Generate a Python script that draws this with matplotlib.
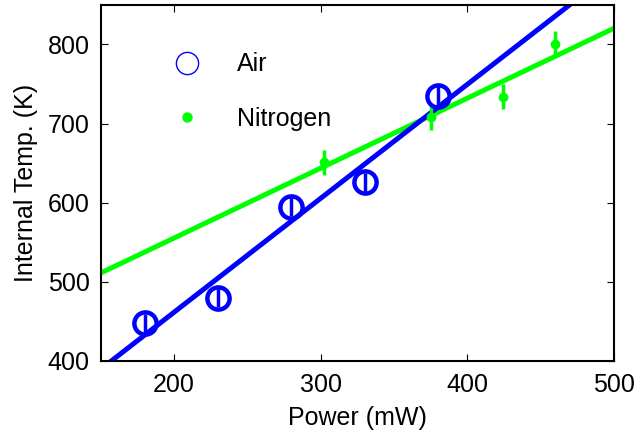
import numpy as np
import matplotlib
matplotlib.use('Agg')
import matplotlib.pyplot as plt
from matplotlib.lines import Line2D

plt.rcParams['font.family'] = ['Liberation Sans', 'DejaVu Sans']

# Air measurements
air_power = [180, 230, 280, 330, 380]
air_temp = [448, 480, 595, 626, 735]
air_err = [12, 12, 12, 12, 12]

# Nitrogen measurements
n2_power = [302, 375, 424, 460]
n2_temp = [651, 708, 734, 801]
n2_err = [16, 16, 16, 16]

fig = plt.figure(figsize=(6.39, 4.38), dpi=100)
ax = fig.add_axes([0.1576, 0.1758, 0.8033, 0.813])

xfit = np.array([150, 500])

air_fit = np.polyfit(air_power, air_temp, 1)
ax.plot(xfit, np.polyval(air_fit, xfit), color='#0000ff', lw=3.6, zorder=2)
n2_fit = np.polyfit(n2_power, n2_temp, 1)
ax.plot(xfit, np.polyval(n2_fit, xfit), color='#00ff00', lw=3.6, zorder=1)

ax.errorbar(air_power, air_temp, yerr=air_err, fmt='o', mfc='none',
            mec='#0000ff', ecolor='#0000ff', ms=16, mew=3.2, elinewidth=2.5,
            capsize=0, zorder=4)
ax.errorbar(n2_power, n2_temp, yerr=n2_err, fmt='o', color='#00ff00',
            ms=6, elinewidth=2.5, capsize=0, zorder=3)

ax.set_xlim(150, 500)
ax.set_ylim(400, 850)
ax.set_xticks([200, 300, 400, 500])
ax.set_yticks([400, 500, 600, 700, 800])
ax.tick_params(direction='in', top=True, right=True, labelsize=18, length=5, width=0.8)
ax.tick_params(axis='x', pad=9)
ax.tick_params(axis='y', pad=8)
for s in ax.spines.values():
    s.set_linewidth(1.5)
ax.set_xlabel('Power (mW)', fontsize=18, labelpad=6)
ax.set_ylabel('Internal Temp. (K)', fontsize=18, labelpad=7)

handles = [
    Line2D([], [], ls='none', marker='o', mfc='none', mec='#0000ff', ms=16, mew=1),
    Line2D([], [], ls='none', marker='o', color='#00ff00', ms=6.5),
]
ax.legend(handles, ['Air', 'Nitrogen'], loc='upper left', bbox_to_anchor=(0.07, 0.93),
          frameon=False, fontsize=18, labelspacing=1.22, handletextpad=0.9,
          handlelength=2.2)

plt.savefig('out.png', dpi=100)
